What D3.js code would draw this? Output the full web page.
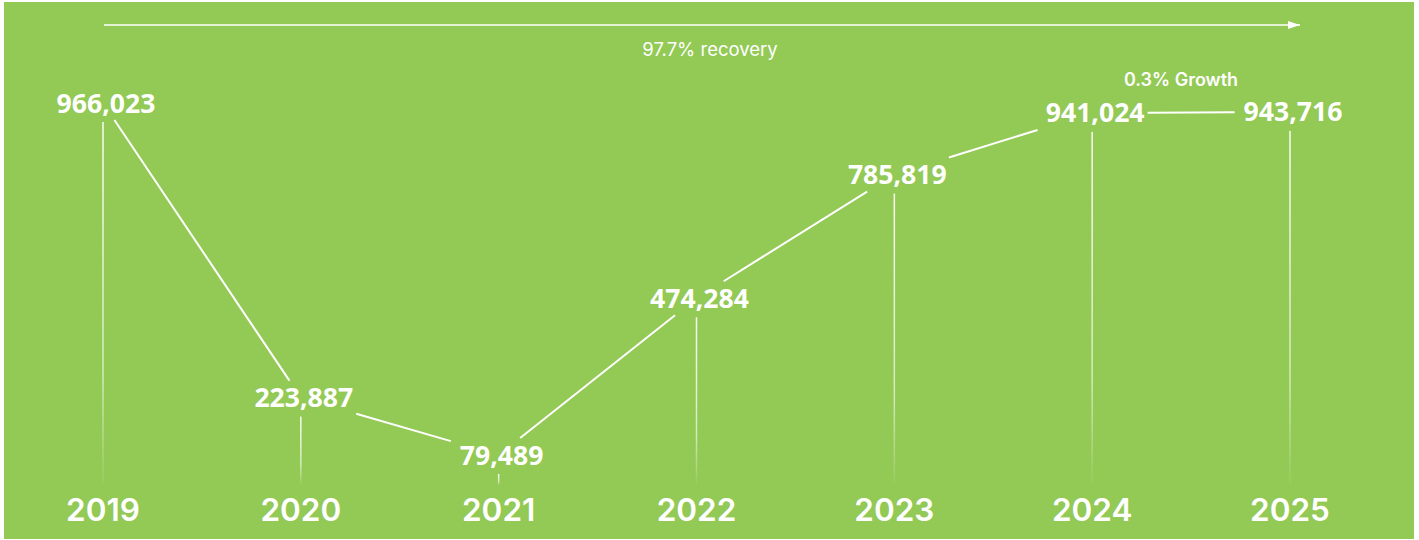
<!DOCTYPE html>
<html>
<head>
<meta charset="utf-8">
<script src="https://cdn.jsdelivr.net/npm/d3@7"></script>
<style>
html,body{margin:0;padding:0;background:#fff;}
svg{display:block;}
</style>
</head>
<body>
<svg id="chart" width="1419" height="540"></svg>
<script>
const years = ["2019","2020","2021","2022","2023","2024","2025"];
const visitors = [966023, 223887, 79489, 474284, 785819, 941024, 943716];
const recoveryLabel = "97.7% recovery";
const growthLabel = "0.3% Growth";

const W = 1419, H = 540;
const svg = d3.select("#chart");
const green = "#93c955";

svg.append("rect").attr("x",4).attr("y",2).attr("width",1410).attr("height",537).attr("fill",green);

const x = d3.scalePoint().domain(years).range([103, 1290]);
const y = d3.scaleLinear().domain([79489, 966023]).range([455, 103]);

const defs = svg.append("defs");
const grad = defs.append("linearGradient").attr("id","fade").attr("x1",0).attr("y1",0).attr("x2",0).attr("y2",1);
grad.append("stop").attr("offset","0%").attr("stop-color","#fff").attr("stop-opacity",0.95);
grad.append("stop").attr("offset","70%").attr("stop-color","#fff").attr("stop-opacity",0.6);
grad.append("stop").attr("offset","100%").attr("stop-color","#fff").attr("stop-opacity",0.05);

defs.append("marker").attr("id","arrow").attr("viewBox","0 0 12 8").attr("refX",12).attr("refY",4)
  .attr("markerWidth",12).attr("markerHeight",8).attr("markerUnits","userSpaceOnUse").attr("orient","auto")
  .append("path").attr("d","M0,0 L12,4 L0,8 Z").attr("fill","#fff");

const data = years.map((yr,i)=>({yr, v: visitors[i], cx: x(yr), cy: y(visitors[i])}));

// labels
const fmt = d3.format(",");
const labels = svg.append("g").selectAll("text").data(data).join("text")
  .attr("x", d=>d.cx+3).attr("y", d=>d.cy+9.5)
  .attr("text-anchor","middle")
  .attr("font-family","'Open Sans', 'Noto Sans', sans-serif")
  .attr("font-weight",700).attr("font-size",26.6).attr("fill","#fff")
  .text(d=>fmt(d.v));
labels.each(function(d){ d.hw = this.getComputedTextLength()/2 + 6; d.hh = 17; });

// vertical drop lines
const yBottom = 485;
svg.append("g").selectAll("rect").data(data).join("rect")
  .attr("x", d=>d.cx-0.75).attr("width",1.5)
  .attr("y", d=>d.cy+d.hh+2).attr("height", d=>Math.max(0, yBottom-(d.cy+d.hh+2)))
  .attr("fill","url(#fade)");

// connecting segments clipped around labels
function clipT(dx, dy, hw, hh){
  const tx = dx===0 ? Infinity : hw/Math.abs(dx);
  const ty = dy===0 ? Infinity : hh/Math.abs(dy);
  return Math.min(tx, ty);
}
const segs = d3.pairs(data).map(([a,b])=>{
  const dx=b.cx-a.cx, dy=b.cy-a.cy;
  const t0 = clipT(dx,dy,a.hw,a.hh), t1 = clipT(dx,dy,b.hw,b.hh);
  return {x1:a.cx+dx*t0, y1:a.cy+dy*t0, x2:b.cx-dx*t1, y2:b.cy-dy*t1};
});
svg.append("g").selectAll("line").data(segs).join("line")
  .attr("x1",d=>d.x1).attr("y1",d=>d.y1).attr("x2",d=>d.x2).attr("y2",d=>d.y2)
  .attr("stroke","#fff").attr("stroke-width",2);

// years
svg.append("g").selectAll("text").data(data).join("text")
  .attr("x", d=>d.cx).attr("y", 521)
  .attr("text-anchor","middle")
  .attr("font-family","Inter, 'Open Sans', sans-serif")
  .attr("font-weight",600).attr("font-size",31.5).attr("fill","#fff")
  .text(d=>d.yr);

// top arrow
svg.append("line").attr("x1", x(years[0])+1).attr("x2", x(years[years.length-1])+10)
  .attr("y1",25).attr("y2",25).attr("stroke","#fff").attr("stroke-width",1.5)
  .attr("marker-end","url(#arrow)");
svg.append("text").attr("x",710).attr("y",56).attr("text-anchor","middle")
  .attr("font-family","Inter, sans-serif").attr("font-weight",400).attr("font-size",18.5).attr("fill","#fff")
  .text(recoveryLabel);

svg.append("text").attr("x",1181).attr("y",86).attr("text-anchor","middle")
  .attr("font-family","Inter, sans-serif").attr("font-weight",600).attr("font-size",18).attr("fill","#fff")
  .text(growthLabel);
</script>
</body>
</html>
